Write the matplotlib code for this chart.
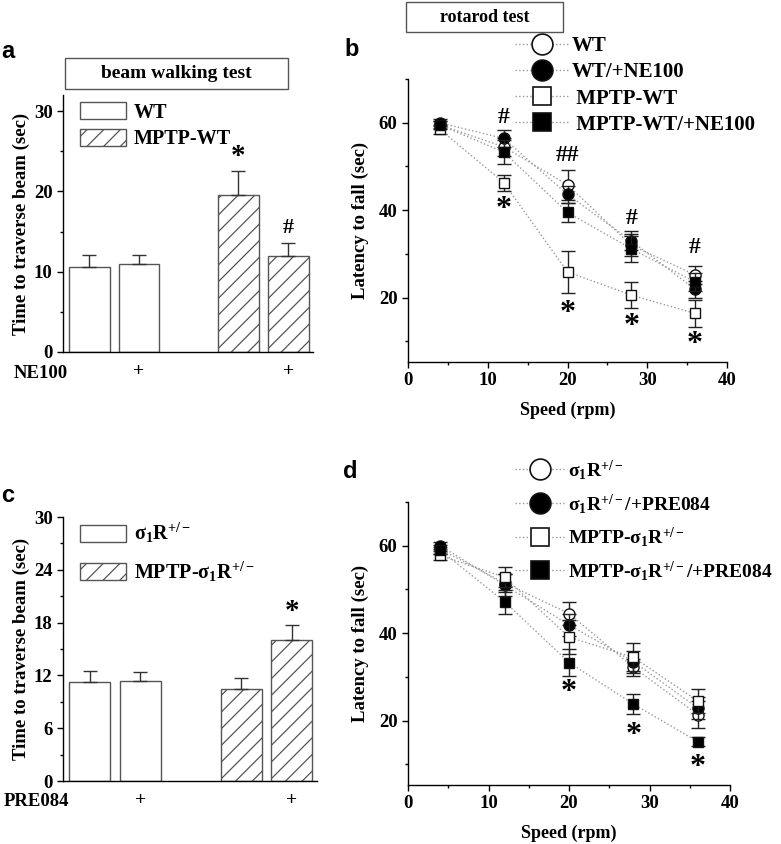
import matplotlib
matplotlib.use("Agg")
import matplotlib.pyplot as plt
from matplotlib.patches import Rectangle, Patch
from matplotlib.lines import Line2D
from matplotlib.ticker import MultipleLocator
import numpy as np

plt.rcParams['font.family'] = ['Liberation Serif', 'DejaVu Serif']
plt.rcParams['font.weight'] = 'bold'
plt.rcParams['axes.labelweight'] = 'bold'
plt.rcParams['mathtext.fontset'] = 'custom'
plt.rcParams['mathtext.rm'] = 'Liberation Serif:bold'
plt.rcParams['mathtext.bf'] = 'Liberation Serif:bold'
plt.rcParams['mathtext.it'] = 'Liberation Serif:bold'
plt.rcParams['hatch.linewidth'] = 0.9

# ---------------- data ----------------
# panel a: beam walking test (WT)
a_labels = ['WT', 'MPTP-WT']
a_values = [10.6, 11.0, 19.5, 12.0]
a_err = [1.5, 1.1, 3.0, 1.6]

# panel c: beam walking test (sigma1R+/-)
c_labels = ['σ$_1$R$^{+/-}$', 'MPTP-σ$_1$R$^{+/-}$']
c_values = [11.3, 11.4, 10.5, 16.0]
c_err = [1.2, 1.0, 1.2, 1.7]

# panels b,d: rotarod test
speeds = [4, 12, 20, 28, 36]
b_labels = ['WT', 'WT/+NE100', ' MPTP-WT', ' MPTP-WT/+NE100']
b_wt = [59.5, 54.5, 45.8, 32.0, 25.2]
b_wt_err = [1.0, 2.0, 3.4, 2.5, 2.1]
b_wt_ne = [60.0, 56.4, 43.6, 33.0, 21.9]
b_wt_ne_err = [0.8, 1.9, 2.0, 2.2, 2.0]
b_mptp = [58.5, 46.3, 25.9, 20.6, 16.4]
b_mptp_err = [1.0, 1.8, 4.8, 3.0, 3.0]
b_mptp_ne = [59.5, 53.3, 39.5, 31.2, 23.6]
b_mptp_ne_err = [0.8, 2.8, 2.2, 3.0, 2.0]

d_labels = ['σ$_1$R$^{+/-}$', 'σ$_1$R$^{+/-}$/+PRE084',
            'MPTP-σ$_1$R$^{+/-}$', 'MPTP-σ$_1$R$^{+/-}$/+PRE084']
d_s = [59.2, 51.5, 44.5, 32.2, 21.4]
d_s_err = [1.0, 2.0, 2.7, 2.0, 3.1]
d_s_pre = [60.0, 51.0, 41.9, 33.5, 22.9]
d_s_pre_err = [0.8, 2.5, 2.5, 2.5, 2.5]
d_m = [57.8, 52.8, 39.1, 34.5, 24.5]
d_m_err = [1.0, 2.3, 3.9, 3.2, 2.7]
d_m_pre = [59.0, 47.2, 33.3, 23.8, 15.2]
d_m_pre_err = [0.8, 2.7, 3.1, 2.2, 1.0]

W, H = 781, 844
fig = plt.figure(figsize=(W / 100, H / 100), dpi=100)


def px_axes(l, t, r, b):
    return fig.add_axes([l / W, 1 - b / H, (r - l) / W, (b - t) / H])


def bold_ticks(ax):
    for lab in ax.get_xticklabels() + ax.get_yticklabels():
        lab.set_fontweight('bold')


def style_axes(ax):
    for s in ['top', 'right']:
        ax.spines[s].set_visible(False)
    for s in ['left', 'bottom']:
        ax.spines[s].set_linewidth(1.0)
    ax.tick_params(labelsize=13.5, width=1, length=4)
    ax.tick_params(which='minor', width=1, length=2.5)


def bar_panel(ax, values, err, ymax, major, minor, drug, drug_x, drug_y):
    pos = [0, 1, 3, 4]
    hatches = ['', '', '//', '//']
    for p, v, e, h in zip(pos, values, err, hatches):
        ax.bar(p, v, width=0.82, color='white', edgecolor='#555555',
               hatch=h, linewidth=1.0, zorder=2)
        ax.errorbar(p, v, yerr=[[0], [e]], fmt='none', ecolor='#333333',
                    elinewidth=1.0, capsize=5, capthick=1.0, zorder=3)
    ax.set_xlim(-0.53, 4.5)
    ax.set_ylim(0, ymax)
    ax.yaxis.set_major_locator(MultipleLocator(major))
    ax.yaxis.set_minor_locator(MultipleLocator(minor))
    ax.set_xticks([1, 4])
    ax.set_xticklabels(['+', '+'], fontsize=14)
    ax.tick_params(axis='x', length=0, pad=8)
    fig.text(drug_x / W, 1 - drug_y / H, drug, fontsize=13.5, ha='left',
             va='center')
    ax.set_ylabel('Time to traverse beam (sec)', fontsize=13.5, labelpad=3)
    bold_ticks(ax)
    handles = [Patch(facecolor='white', edgecolor='#555555', linewidth=1.0),
               Patch(facecolor='white', edgecolor='#555555', hatch='//',
                     linewidth=1.0)]
    return handles


# ---------------- panel a ----------------
ax_a = px_axes(63, 95, 313, 352)
style_axes(ax_a)
h = bar_panel(ax_a, a_values, a_err, 32, 10, 5, 'NE100', 14, 373)
ax_a.set_yticks([0, 10, 20, 30])
ax_a.set_ylim(0, 32)
bold_ticks(ax_a)
ax_a.legend(h, a_labels, loc='upper left', bbox_to_anchor=(0.02, 1.02),
            frameon=False, fontsize=14.5, handlelength=2.3, handleheight=0.95,
            labelspacing=0.3, handletextpad=0.35, borderaxespad=0.2)
ax_a.text(3, 24.4, '*', fontsize=21, ha='center', va='center')
ax_a.text(4, 15.4, '#', fontsize=16, ha='center', va='center')

# ---------------- panel c ----------------
ax_c = px_axes(63, 517, 317, 781)
style_axes(ax_c)
h = bar_panel(ax_c, c_values, c_err, 30, 6, 3, 'PRE084', 4, 801)
ax_c.legend(h, c_labels, loc='upper left', bbox_to_anchor=(0.02, 1.03),
            frameon=False, fontsize=14.5, handlelength=2.3, handleheight=0.95,
            labelspacing=0.7, handletextpad=0.35, borderaxespad=0.2)
ax_c.text(4, 19.3, '*', fontsize=21, ha='center', va='center')


# ---------------- line panels ----------------
def line_panel(ax, series, errs, labels, legend_top, spacing, fs):
    mk = [dict(marker='o', mfc='white'), dict(marker='o', mfc='black'),
          dict(marker='s', mfc='white'), dict(marker='s', mfc='black')]
    ms_plot = [8, 8, 7.5, 7.5]
    ms_leg = [15, 15, 13, 13]
    order = [2, 0, 3, 1]
    for i in order:
        ax.errorbar(speeds, series[i], yerr=errs[i], color='#999999',
                    ls=':', lw=1.0, ecolor='#222222', elinewidth=1.0,
                    capsize=5, capthick=1.0, mec='#111111', ms=ms_plot[i],
                    mew=1.0, zorder=3 + i, **mk[i])
    ax.set_xlim(0, 40)
    ax.set_ylim(5.3, 70)
    ax.xaxis.set_major_locator(MultipleLocator(10))
    ax.xaxis.set_minor_locator(MultipleLocator(5))
    ax.set_yticks([20, 40, 60])
    ax.yaxis.set_minor_locator(MultipleLocator(10))
    ax.set_xlabel('Speed (rpm)', fontsize=13, labelpad=9)
    ax.set_ylabel('Latency to fall (sec)', fontsize=13.5, labelpad=7)
    bold_ticks(ax)
    handles = [Line2D([], [], color='#999999', ls=':', lw=1.0,
                      mec='#111111', ms=ms_leg[j], mew=1.2, **m)
               for j, m in enumerate(mk)]
    ax.legend(handles, labels, loc='upper left',
              bbox_to_anchor=(515 / W, 1 - legend_top / H),
              bbox_transform=fig.transFigure, frameon=False, fontsize=fs,
              handlelength=2.6, labelspacing=spacing, handletextpad=0.1,
              borderaxespad=0, borderpad=0)


ax_b = px_axes(408, 79, 727, 362)
style_axes(ax_b)
line_panel(ax_b, [b_wt, b_wt_ne, b_mptp, b_mptp_ne],
           [b_wt_err, b_wt_ne_err, b_mptp_err, b_mptp_ne_err],
           b_labels, 36, 0.3, 15)
for x, y, s in [(12, 61.3, '#'), (20, 52.6, '##'), (28, 38.2, '#'),
                (36, 31.4, '#')]:
    ax_b.text(x, y, s, fontsize=17, ha='center', va='center')
for x, y in [(12, 40.2), (20, 16.5), (28, 13.5), (36, 9.3)]:
    ax_b.text(x, y, '*', fontsize=23, ha='center', va='center')

ax_d = px_axes(408, 502, 730, 785)
style_axes(ax_d)
line_panel(ax_d, [d_s, d_s_pre, d_m, d_m_pre],
           [d_s_err, d_s_pre_err, d_m_err, d_m_pre_err],
           d_labels, 458, 0.5, 14)
for x, y in [(20, 26.4), (28, 16.7), (36, 9.4)]:
    ax_d.text(x, y, '*', fontsize=23, ha='center', va='center')


# ---------------- title boxes ----------------
def title_box(l, t, r, b, text, fs):
    fig.patches.append(Rectangle((l / W, 1 - b / H), (r - l) / W, (b - t) / H,
                                 transform=fig.transFigure, facecolor='white',
                                 edgecolor='#555555', linewidth=1.0))
    fig.text((l + r) / 2 / W, 1 - (t + b) / 2 / H, text, fontsize=fs,
             ha='center', va='center')


title_box(65, 58, 288, 89, 'beam walking test', 14)
title_box(406, 2, 563, 32, 'rotarod test', 13)

# panel letters
for x, y, s in [(8, 52, 'a'), (352, 50, 'b'), (8, 495, 'c'), (350, 472, 'd')]:
    fig.text(x / W, 1 - y / H, s, fontsize=17, fontweight='bold',
             family='Liberation Sans', ha='center', va='center')

fig.savefig('out.png', dpi=100)
